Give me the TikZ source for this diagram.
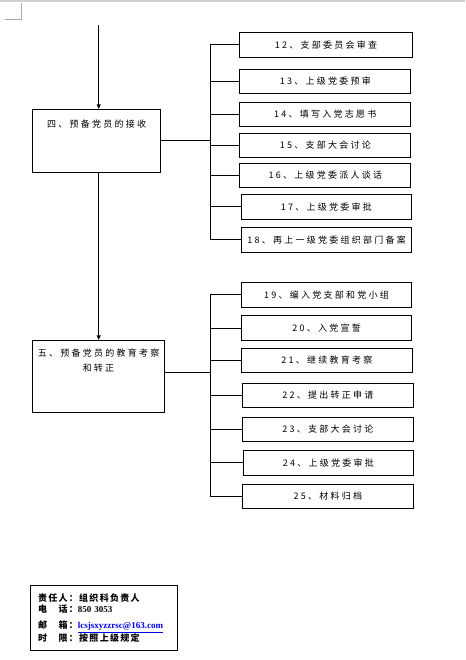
\documentclass[tikz,border=0pt]{standalone}
\usepackage{fontspec}
\usepackage{xcolor}
\usepackage{tikz}
\usetikzlibrary{arrows.meta, positioning, calc}
\newfontfamily\cjk[LetterSpace=25]{Noto Sans CJK SC}
\newfontfamily\cjkinfo[LetterSpace=14]{Noto Sans CJK SC}
\newfontfamily\tnr{Liberation Serif}
\definecolor{pagegray}{RGB}{170,170,170}
\definecolor{maillink}{RGB}{0,0,235}

\begin{document}
\begin{tikzpicture}[x=1pt, y=-1pt,
      stage/.style={rectangle, draw, line width=0.8pt, inner sep=0pt,
                    font=\cjk\fontsize{9}{15}\selectfont, align=center},
      stepbox/.style={rectangle, draw, line width=0.8pt, inner sep=0pt,
                      minimum width=171pt, minimum height=24.5pt,
                      font=\cjk\fontsize{9}{10}\selectfont},
      infobox/.style={rectangle, draw, line width=0.8pt, inner xsep=8pt,
                      text width=131pt, minimum height=64.6pt, align=left,
                      font=\cjkinfo\bfseries\fontsize{9}{11.5}\selectfont},
      link/.style={line width=0.8pt},
      arr/.style={-{Triangle[length=4.5pt, width=4pt]}, line width=0.8pt},
      ]
    \useasboundingbox (0,0) rectangle (465,660);
    % page corner mark
    \fill[pagegray!55] (0,0) rectangle (465,2);
    \draw[pagegray, line width=0.8pt] (5,19.3) -- (21.7,19.3) -- (21.7,3.3);

    % left: stages
    \node[stage, minimum width=128.4pt, minimum height=63pt,
          text height=18pt, text depth=45pt] (recv) at (96.5,140.8)
          {四、预备党员的接收};
    \node[stage, minimum width=132.4pt, minimum height=72pt,
          text height=31pt, text depth=41pt] (edu) at (98.5,376.3)
          {五、预备党员的教育考察\\和转正};
    \coordinate (top) at (98.7,25);

    % right: steps of stage four
    \node[stepbox, minimum width=173.4pt] (s12) at (326,44.8) {12、支部委员会审查};
    \node[stepbox] (s13) at (325.3,81.3) {13、上级党委预审};
    \node[stepbox] (s14) at (325.3,114.3) {14、填写入党志愿书};
    \node[stepbox] (s15) at (325.3,145.3) {15、支部大会讨论};
    \node[stepbox] (s16) at (325.3,175.3) {16、上级党委派人谈话};
    \node[stepbox, minimum width=170pt] (s17) at (326.3,206.8) {17、上级党委审批};
    \node[stepbox, minimum width=170pt] (s18) at (326.7,239.7) {18、再上一级党委组织部门备案};
    \coordinate (trunkA) at (210.7,140.8);

    % right: steps of stage five
    \node[stepbox, minimum width=170.4pt] (s19) at (326.5,294.8) {19、编入党支部和党小组};
    \node[stepbox, minimum width=170.4pt] (s20) at (326.5,328) {20、入党宣誓};
    \node[stepbox] (s21) at (326.8,360.5) {21、继续教育考察};
    \node[stepbox] (s22) at (327.8,395.5) {22、提出转正申请};
    \node[stepbox] (s23) at (327.8,429.3) {23、支部大会讨论};
    \node[stepbox, minimum width=170pt] (s24) at (328.3,462.8) {24、上级党委审批};
    \node[stepbox] (s25) at (327.8,496.5) {25、材料归档};
    \coordinate (trunkB) at (210.7,372.3);

    % contact box
    \node[infobox] (info) at (103.7,618)
          {责任人：组织科负责人\\
           电　话：{\tnr 850 3053}\\[4.5pt]
           邮　箱：{\tnr\color{maillink}\underline{lcsjsxyzzrsc@163.com}}\\
           时　限：按照上级规定};

    \draw[arr] (top) -- (top |- recv.north);
    \draw[arr] (recv.south -| top) -- (top |- edu.north);

    \draw[link] (recv.east) -- (trunkA);
    \draw[link] (s12.west) -| (trunkA) |- (s18.west);
    \foreach \s in {s13, s14, s15, s16, s17}
      \draw[link] (\s.west) -- (\s.west -| trunkA);

    \draw[link] (edu.east |- trunkB) -- (trunkB);
    \draw[link] (s19.west) -| (trunkB) |- (s25.west);
    \foreach \s in {s20, s21, s22, s23, s24}
      \draw[link] (\s.west) -- (\s.west -| trunkB);
  \end{tikzpicture}
\end{document}
